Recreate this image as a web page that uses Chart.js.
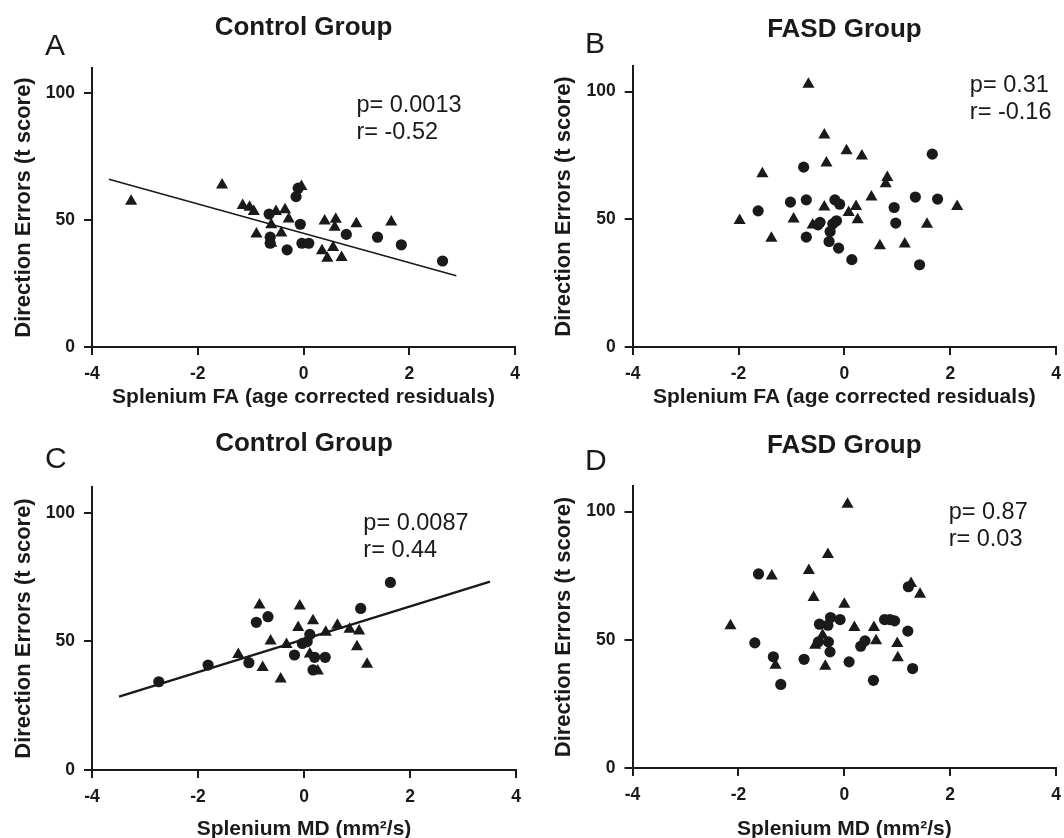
<!DOCTYPE html>
<html>
<head>
<meta charset="utf-8">
<title>Splenium FA / MD vs Direction Errors</title>
<script src="https://cdn.jsdelivr.net/npm/chart.js@4/dist/chart.umd.min.js"></script>
<style>
  html, body { margin: 0; padding: 0; background: #fff; overflow: hidden; }
  #wrap { position: relative; width: 1064px; height: 838px; }
  #wrap canvas { position: absolute; }
</style>
</head>
<body>
<div id="wrap">
  <canvas id="panelA" width="532" height="419" style="left:0;top:0"></canvas>
  <canvas id="panelB" width="530" height="419" style="left:540px;top:0"></canvas>
  <canvas id="panelC" width="532" height="419" style="left:0;top:419px"></canvas>
  <canvas id="panelD" width="530" height="419" style="left:540px;top:419px"></canvas>
</div>
<script>
// axis ticks
const xTicks = [-4, -2, 0, 2, 4];
const yTicks = [0, 50, 100];

// A - Control group, splenium FA
const triA = [[-3.26,57.5],[-1.54,63.9],[-1.15,55.8],[-1.02,55.1],[-0.94,53.4],[-0.52,53.4],[-0.35,54.1],[-0.28,50.5],
  [-0.61,48.2],[-0.89,44.6],[-0.42,44.9],[-0.61,40.9],[-0.04,63.3],[0.40,49.7],[0.61,50.4],[0.59,47.2],[1.00,48.6],
  [1.66,49.3],[0.35,37.9],[0.56,39.2],[0.45,35.0],[0.72,35.3]];
const dotA = [[-0.65,52.4],[-0.63,43.3],[-0.63,40.9],[-0.31,38.3],[-0.10,62.6],[-0.14,59.3],[-0.06,48.4],[-0.03,40.9],
  [0.10,40.9],[0.81,44.4],[1.40,43.3],[1.85,40.3],[2.63,33.9]];
const fitA = [[-3.68,66.1],[2.89,28.1]];
const statsA = ['p= 0.0013', 'r= -0.52'];

// B - FASD group, splenium FA
const triB = [[-0.68,102.9],[-0.38,83.0],[0.04,76.8],[0.33,74.8],[-0.34,72.0],[-1.55,67.8],[0.81,66.4],[0.78,63.9],
  [0.51,58.7],[-0.38,54.8],[0.22,55.0],[0.08,52.7],[2.13,55.0],[-1.98,49.5],[-0.96,50.1],[0.25,49.8],[-0.60,47.8],
  [-1.38,42.6],[0.67,39.6],[1.14,40.3],[1.56,48.1]];
const dotB = [[1.66,75.5],[-0.77,70.4],[-1.63,53.3],[-1.02,56.7],[-0.72,57.6],[-0.18,57.6],[-0.09,55.9],[1.34,58.7],
  [1.76,57.9],[0.94,54.6],[-0.46,48.8],[-0.50,47.8],[-0.15,49.4],[-0.22,48.2],[0.97,48.5],[-0.72,43.0],[-0.27,45.2],
  [-0.29,41.3],[-0.11,38.7],[0.14,34.2],[1.42,32.2]];
const statsB = ['p= 0.31', 'r= -0.16'];

// C - Control group, splenium MD
const triC = [[-0.84,64.1],[-0.08,63.7],[0.17,58.0],[-0.11,55.4],[0.63,56.3],[0.41,53.5],[0.86,54.7],[1.04,54.0],
  [-0.63,50.1],[-0.33,48.8],[-1.24,44.9],[0.11,45.1],[1.00,47.9],[-0.78,39.8],[-0.44,35.4],[0.26,38.5],[1.19,41.1]];
const dotC = [[-2.74,34.3],[-1.81,40.8],[-1.04,41.7],[-0.90,57.4],[-0.68,59.6],[-0.18,44.7],[-0.03,49.2],[0.11,52.7],
  [0.06,49.9],[0.20,43.8],[0.40,43.8],[0.17,38.9],[1.07,62.8],[1.63,72.9]];
const fitC = [[-3.49,28.5],[3.51,73.2]];
const statsC = ['p= 0.0087', 'r= 0.44'];

// D - FASD group, splenium MD
const triD = [[0.06,102.9],[-0.31,83.3],[-0.67,77.0],[-1.37,74.9],[-0.58,66.5],[0.00,63.9],[1.26,72.0],[1.43,67.8],
  [-2.15,55.5],[0.19,54.8],[0.56,54.8],[0.60,49.6],[1.00,48.6],[1.01,43.0],[-0.36,39.7],[-1.30,40.1],[-0.55,47.9],
  [-0.41,51.8]];
const dotD = [[-1.62,75.7],[1.21,70.7],[0.86,57.9],[0.76,57.9],[0.95,57.4],[-0.26,58.7],[-0.08,57.9],[-0.47,56.1],
  [-0.31,55.7],[1.20,53.4],[-1.69,48.8],[-0.49,49.2],[-0.30,49.2],[-0.27,45.3],[0.39,49.6],[0.31,47.5],[-1.34,43.4],
  [-0.76,42.4],[0.09,41.4],[1.29,38.8],[-1.20,32.6],[0.55,34.2]];
const statsD = ['p= 0.87', 'r= 0.03'];

const ink = '#1a1a1a';
const FONT = '"Liberation Sans", Arial, Helvetica, sans-serif';
Chart.defaults.font.family = FONT;
Chart.defaults.color = ink;

const pts = arr => arr.map(([x, y]) => ({ x, y }));

// panel letter + p/r text
const notes = {
  id: 'notes',
  afterDraw(chart, args, o) {
    const ctx = chart.ctx;
    ctx.save();
    ctx.fillStyle = ink;
    ctx.textBaseline = 'alphabetic';
    ctx.textAlign = 'left';
    ctx.font = '30px ' + FONT;
    ctx.fillText(o.letter, o.letterX, o.letterY);
    ctx.font = '23.5px ' + FONT;
    const px = chart.scales.x.getPixelForValue(o.at[0]);
    const py = chart.scales.y.getPixelForValue(o.at[1]);
    o.lines.forEach((t, i) => ctx.fillText(t, px, py + i * 27));
    ctx.restore();
  }
};

function panel(id, g) {
  const canvas = document.getElementById(id);
  const W = canvas.width, H = canvas.height;
  const datasets = [
    { data: pts(g.tri), pointStyle: 'triangle', pointRadius: 7, backgroundColor: ink, borderColor: ink, borderWidth: 0 },
    { data: pts(g.dot), pointStyle: 'circle', pointRadius: 5.6, backgroundColor: ink, borderColor: ink, borderWidth: 0 }
  ];
  if (g.fit) {
    datasets.push({ type: 'line', data: pts(g.fit), showLine: true, pointRadius: 0, borderColor: ink,
      borderWidth: g.fitWidth, fill: false });
  }
  const titleLH = 26 * 1.2;
  const tTop = g.titleY - titleLH / 2;
  return new Chart(canvas, {
    type: 'scatter',
    data: { datasets },
    plugins: [notes],
    options: {
      responsive: false,
      animation: false,
      layout: { padding: { left: 0, top: 0, bottom: 0, right: W - g.right } },
      plugins: {
        legend: { display: false },
        tooltip: { enabled: false },
        title: {
          display: true, text: g.title, fullSize: false, color: ink,
          font: { size: 26, weight: 'bold' },
          padding: { top: tTop, bottom: g.top - tTop - titleLH }
        },
        notes: { letter: g.letter, letterX: 45, letterY: g.letterY, at: g.at, lines: g.stats }
      },
      scales: {
        x: {
          type: 'linear', min: -4, max: 4,
          afterBuildTicks: s => { s.ticks = xTicks.map(v => ({ value: v })); },
          afterFit: s => { s.height = H - g.bottom; },
          grid: { drawOnChartArea: false, drawTicks: true, tickLength: 8, color: ink, lineWidth: 2 },
          border: { display: true, color: ink, width: 2 },
          ticks: { padding: 9, color: ink, font: { size: 17.5, weight: 'bold' } },
          title: { display: true, text: g.xTitle, color: ink, font: { size: 21, weight: 'bold' },
            padding: { top: 0, bottom: H - g.xTitleY - 12.6 } }
        },
        y: {
          type: 'linear', min: 0, max: 110,
          afterBuildTicks: s => { s.ticks = yTicks.map(v => ({ value: v })); },
          afterFit: s => { s.width = g.left; },
          grid: { drawOnChartArea: false, drawTicks: true, tickLength: 8, color: ink, lineWidth: 2 },
          border: { display: true, color: ink, width: 2 },
          ticks: { padding: 9, color: ink, font: { size: 17.5, weight: 'bold' } },
          title: { display: true, text: 'Direction Errors (t score)', color: ink, font: { size: 22, weight: 'bold' },
            padding: { top: 11, bottom: 0 } }
        }
      }
    }
  });
}

const faTitle = 'Splenium FA (age corrected residuals)';
const mdTitle = 'Splenium MD (mm\u00B2/s)';

panel('panelA', { tri: triA, dot: dotA, fit: fitA, fitWidth: 1.5, stats: statsA, at: [1.0, 92.8],
  title: 'Control Group', letter: 'A', letterY: 55, titleY: 28, xTitle: faTitle, xTitleY: 397,
  left: 92, right: 515, top: 68, bottom: 347 });
panel('panelB', { tri: triB, dot: dotB, stats: statsB, at: [2.37, 100],
  title: 'FASD Group', letter: 'B', letterY: 53, titleY: 30, xTitle: faTitle, xTitleY: 397,
  left: 92.7, right: 519.5, top: 66, bottom: 347 });
panel('panelC', { tri: triC, dot: dotC, fit: fitC, fitWidth: 2.5, stats: statsC, at: [1.12, 93.3],
  title: 'Control Group', letter: 'C', letterY: 49, titleY: 25, xTitle: mdTitle, xTitleY: 410,
  left: 92, right: 516, top: 68, bottom: 351 });
panel('panelD', { tri: triD, dot: dotD, stats: statsD, at: [1.97, 97],
  title: 'FASD Group', letter: 'D', letterY: 51, titleY: 27, xTitle: mdTitle, xTitleY: 410,
  left: 92.5, right: 519.5, top: 67, bottom: 349 });
</script>
</body>
</html>
